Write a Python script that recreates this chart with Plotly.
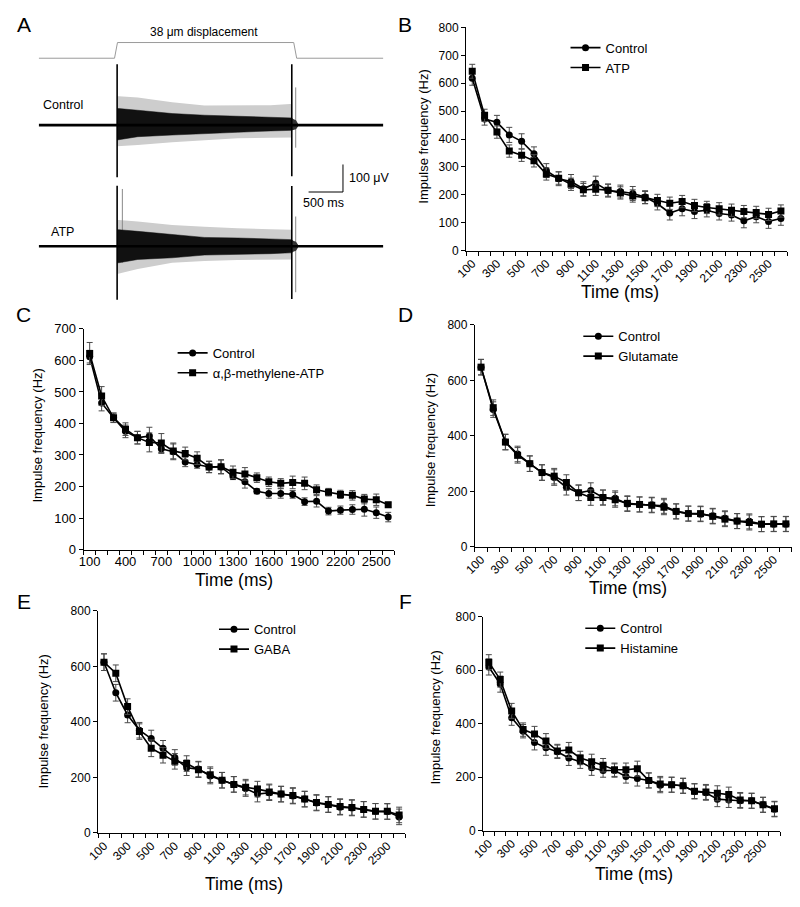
import plotly.graph_objects as go

# The page body keeps the browser's default 8px margin, so the figure is drawn
# 16px smaller than the 800x907 window and every position is given in window px.
WIN_W, WIN_H = 800, 907
OFF = 8
W, H = WIN_W - 2 * OFF, WIN_H - 2 * OFF
FONT = "Liberation Sans, Arial, sans-serif"

# ---------------- data ----------------
times = [100, 200, 300, 400, 500, 600, 700, 800, 900, 1000, 1100, 1200, 1300,
         1400, 1500, 1600, 1700, 1800, 1900, 2000, 2100, 2200, 2300, 2400, 2500, 2600]

# Panel B
b_control = [618, 472, 460, 415, 392, 347, 287, 258, 248, 222, 242, 215, 212, 205, 192, 168, 135, 150, 140, 145, 133, 128, 107, 122, 105, 115]
b_control_err = [25, 22, 25, 27, 27, 25, 25, 25, 25, 25, 25, 23, 23, 25, 23, 22, 25, 25, 25, 24, 23, 22, 25, 22, 25, 24]
b_atp = [643, 485, 425, 357, 342, 322, 275, 260, 238, 218, 220, 217, 207, 196, 190, 180, 170, 176, 162, 155, 150, 145, 140, 137, 130, 142]
b_atp_err = [25, 22, 22, 22, 22, 22, 22, 22, 22, 23, 22, 22, 22, 22, 22, 22, 22, 22, 22, 22, 22, 22, 22, 22, 22, 22]

# Panel C
c_control = [612, 465, 418, 375, 355, 360, 320, 310, 278, 270, 262, 262, 232, 215, 185, 178, 178, 175, 152, 153, 122, 125, 127, 128, 117, 103]
c_control_err = [20, 25, 15, 20, 20, 28, 15, 25, 15, 12, 18, 22, 10, 20, 8, 15, 15, 12, 12, 18, 12, 13, 15, 22, 18, 15]
c_abm = [622, 487, 418, 382, 355, 340, 338, 313, 305, 290, 262, 263, 245, 240, 228, 215, 210, 213, 210, 190, 182, 175, 172, 160, 158, 142]
c_abm_err = [35, 30, 15, 20, 20, 30, 30, 25, 20, 20, 18, 22, 20, 20, 15, 15, 15, 20, 20, 15, 12, 13, 15, 15, 18, 8]

# Panel D
d_control = [648, 495, 378, 335, 300, 268, 250, 215, 195, 203, 178, 175, 155, 153, 152, 148, 128, 120, 118, 112, 103, 93, 92, 82, 82, 82]
d_control_err = [28, 28, 28, 28, 28, 28, 28, 28, 28, 28, 27, 27, 27, 27, 27, 27, 27, 27, 27, 27, 27, 27, 27, 27, 27, 27]
d_glu = [648, 502, 378, 330, 300, 268, 255, 232, 195, 178, 178, 170, 157, 153, 150, 143, 128, 120, 120, 110, 100, 93, 88, 82, 83, 83]
d_glu_err = [28, 28, 28, 28, 28, 28, 28, 28, 28, 28, 27, 27, 27, 27, 27, 27, 27, 27, 27, 27, 27, 27, 27, 27, 27, 27]

# Panel E
e_control = [615, 505, 425, 370, 340, 305, 272, 235, 230, 205, 190, 175, 160, 140, 145, 140, 133, 122, 108, 102, 93, 90, 85, 78, 77, 58]
e_control_err = [30, 30, 28, 28, 30, 28, 28, 28, 28, 28, 28, 28, 28, 28, 28, 28, 28, 28, 28, 28, 28, 28, 28, 28, 28, 28]
e_gaba = [615, 575, 455, 365, 305, 280, 258, 250, 228, 210, 190, 175, 165, 158, 148, 140, 135, 122, 110, 103, 95, 92, 85, 78, 78, 65]
e_gaba_err = [30, 30, 28, 28, 30, 28, 28, 28, 28, 28, 28, 28, 28, 28, 28, 28, 28, 28, 28, 28, 28, 28, 28, 28, 28, 28]

# Panel F
f_control = [612, 548, 422, 372, 330, 310, 295, 272, 258, 235, 225, 225, 203, 195, 188, 170, 172, 168, 147, 142, 118, 115, 112, 112, 97, 80]
f_control_err = [30, 30, 28, 25, 28, 28, 25, 28, 25, 28, 25, 25, 25, 28, 28, 28, 28, 28, 28, 28, 28, 28, 28, 28, 28, 28]
f_hist = [630, 565, 448, 378, 362, 335, 298, 302, 272, 258, 245, 228, 228, 232, 188, 175, 172, 168, 148, 145, 140, 135, 115, 112, 97, 82]
f_hist_err = [28, 28, 28, 25, 28, 28, 25, 28, 25, 28, 25, 25, 25, 28, 28, 28, 28, 28, 28, 28, 28, 28, 28, 28, 28, 28]

# Panel A: recording envelopes (µV relative to baseline), time in ms from stimulus onset
env_t = [0, 25, 300, 800, 1270, 1750, 2230, 2510, 2540]
ctrl_core_up = [60, 60, 54, 42, 36, 32, 30, 26, 26]
ctrl_core_lo = [-54, -54, -42, -36, -30, -26, -21, -19, -19]
ctrl_out_up = [105, 105, 100, 83, 71, 71, 72, 77, 77]
ctrl_out_lo = [-77, -77, -72, -62, -54, -48, -46, -45, -45]
atp_core_up = [60, 60, 54, 42, 32, 30, 27, 24, 24]
atp_core_lo = [-60, -60, -48, -42, -32, -30, -27, -24, -24]
atp_out_up = [95, 95, 90, 77, 71, 65, 62, 60, 60]
atp_out_lo = [-101, -101, -83, -60, -54, -50, -48, -48, -48]
tail_t = [2540, 2560, 2600, 2630]
ctrl_tail_up = [26, 22, 18, 5]
ctrl_tail_lo = [-19, -18, -15, -5]
atp_tail_up = [24, 20, 16, 5]
atp_tail_lo = [-24, -20, -16, -5]
# spikes: time, top, bottom (µV)
ctrl_spike_t = [0, 2539]
ctrl_spike_top = [221, 221]
ctrl_spike_bot = [-189, -186]
ctrl_gray_spike_t = [2596]
ctrl_gray_spike_top = [137]
ctrl_gray_spike_bot = [-82]
atp_spike_t = [0, 2539]
atp_spike_top = [220, 219]
atp_spike_bot = [-194, -192]
atp_gray_spike_t = [76, 2596]
atp_gray_spike_top = [208, 108]
atp_gray_spike_bot = [-60, -167]
stim_t = [-1140, -38, 5, 2567, 2610, 3870]
stim_level = [243, 243, 300, 300, 243, 243]
rec_start, rec_end = -1140, 3870
atp_offset = -440
scale_t = [2783, 3283, 3283]
scale_v = [-243, -243, -143]

# ---------------- helpers ----------------
def px(x):
    return min(1.0, max(0.0, (x - OFF) / W))

def py(y):
    return min(1.0, max(0.0, 1 - (y - OFF) / H))

fig = go.Figure()

ticks_odd = [100, 300, 500, 700, 900, 1100, 1300, 1500, 1700, 1900, 2100, 2300, 2500]
panels = [
    dict(key="", xd=(461, 787), yd=(20.7, 247.7), ymax=800, dt=100, tv=ticks_odd, ang=-45, tf=12,
         c=b_control, ce=b_control_err, t=b_atp, te=b_atp_err, name="ATP", leg=(562, 26)),
    dict(key="2", xd=(72.7, 388), yd=(327.3, 551.7), ymax=700, dt=100,
         tv=[100, 400, 700, 1000, 1300, 1600, 1900, 2200, 2500], ang=0, tf=13,
         c=c_control, ce=c_control_err, t=c_abm, te=c_abm_err, name="α,β-methylene-ATP", leg=(163, 336.5)),
    dict(key="3", xd=(470, 792), yd=(323.3, 549), ymax=800, dt=200, tv=ticks_odd, ang=-45, tf=12,
         c=d_control, ce=d_control_err, t=d_glu, te=d_glu_err, name="Glutamate", leg=(575, 319.5)),
    dict(key="4", xd=(87.3, 399), yd=(614, 840), ymax=800, dt=200, tv=ticks_odd, ang=-45, tf=12,
         c=e_control, ce=e_control_err, t=e_gaba, te=e_gaba_err, name="GABA", leg=(205, 617.5)),
    dict(key="5", xd=(478.3, 780), yd=(620, 837.7), ymax=800, dt=200, tv=ticks_odd, ang=-45, tf=12,
         c=f_control, ce=f_control_err, t=f_hist, te=f_hist_err, name="Histamine", leg=(577, 616.5)),
]

layout_extra = {}
boundaries = [t - 50 for t in times] + [times[-1] + 50]

for p in panels:
    k = p["key"]
    xa, ya = "x" + k, "y" + k
    lg = "legend" + k
    for series, err, nm, sym in [(p["c"], p["ce"], "Control", "circle"), (p["t"], p["te"], p["name"], "square")]:
        fig.add_trace(go.Scatter(
            x=times, y=series, mode="lines+markers", name=nm,
            xaxis=xa, yaxis=ya, legend=lg,
            line=dict(color="black", width=1.6),
            marker=dict(symbol=sym, size=7, color="black"),
            error_y=dict(type="data", array=err, color="#4a4a4a", thickness=1, width=3),
        ))
    layout_extra["xaxis" + k] = dict(
        domain=[px(p["xd"][0]), px(p["xd"][1])], anchor=ya, range=[50, 2650],
        showline=True, linecolor="black", linewidth=1.2, showgrid=False, zeroline=False,
        tickmode="array", tickvals=p["tv"], ticktext=[str(v) for v in p["tv"]],
        ticks="", tickangle=p["ang"], tickfont=dict(size=p["tf"], color="black", family=FONT),
        minor=dict(tickmode="array", tickvals=boundaries, ticks="outside", ticklen=4,
                   tickwidth=1, tickcolor="black", showgrid=False),
    )
    layout_extra["yaxis" + k] = dict(
        domain=[py(p["yd"][1]), py(p["yd"][0])], anchor=xa, range=[0, p["ymax"]],
        dtick=p["dt"], tick0=0,
        showline=True, linecolor="black", linewidth=1.2, showgrid=False, zeroline=False,
        ticks="outside", ticklen=4, tickwidth=1, tickcolor="black",
        tickfont=dict(size=p["tf"], color="black", family=FONT),
    )
    layout_extra["legend" + k] = dict(
        x=px(p["leg"][0]), y=py(p["leg"][1]), xanchor="left", yanchor="top",
        bgcolor="rgba(0,0,0,0)", font=dict(size=13, color="black", family=FONT),
        tracegroupgap=0, itemwidth=30,
    )

# ---------------- panel A ----------------
def band(t, up, lo, off):
    return t + t[::-1], [v + off for v in up] + [v + off for v in lo[::-1]]

def spikes(ts, tops, bots, off):
    xs, ys = [], []
    for t, a, b in zip(ts, tops, bots):
        xs += [t, t, None]
        ys += [a + off, b + off, None]
    return xs, ys

for off, out_up, out_lo, core_up, core_lo, tail_up, tail_lo, st, stop, sbot, gt, gtop, gbot in [
    (0, ctrl_out_up, ctrl_out_lo, ctrl_core_up, ctrl_core_lo, ctrl_tail_up, ctrl_tail_lo,
     ctrl_spike_t, ctrl_spike_top, ctrl_spike_bot, ctrl_gray_spike_t, ctrl_gray_spike_top, ctrl_gray_spike_bot),
    (atp_offset, atp_out_up, atp_out_lo, atp_core_up, atp_core_lo, atp_tail_up, atp_tail_lo,
     atp_spike_t, atp_spike_top, atp_spike_bot, atp_gray_spike_t, atp_gray_spike_top, atp_gray_spike_bot),
]:
    bx, by = band(env_t, out_up, out_lo, off)
    fig.add_trace(go.Scatter(x=bx, y=by, mode="lines", fill="toself", fillcolor="#cdcdcd",
                             line=dict(width=0), xaxis="x6", yaxis="y6", showlegend=False, hoverinfo="skip"))
    gx, gy = spikes(gt, gtop, gbot, off)
    fig.add_trace(go.Scatter(x=gx, y=gy, mode="lines", line=dict(color="#888888", width=1),
                             xaxis="x6", yaxis="y6", showlegend=False, hoverinfo="skip"))
    cx, cy = band(env_t, core_up, core_lo, off)
    fig.add_trace(go.Scatter(x=cx, y=cy, mode="lines", fill="toself", fillcolor="#111111",
                             line=dict(width=0.5, color="#111111"), xaxis="x6", yaxis="y6",
                             showlegend=False, hoverinfo="skip"))
    tx, ty = band(tail_t, tail_up, tail_lo, off)
    fig.add_trace(go.Scatter(x=tx, y=ty, mode="lines", fill="toself", fillcolor="#333333",
                             line=dict(width=0), xaxis="x6", yaxis="y6",
                             showlegend=False, hoverinfo="skip"))
    fig.add_trace(go.Scatter(x=[rec_start, rec_end], y=[off, off], mode="lines",
                             line=dict(color="black", width=2.6), xaxis="x6", yaxis="y6",
                             showlegend=False, hoverinfo="skip"))
    sx, sy = spikes(st, stop, sbot, off)
    fig.add_trace(go.Scatter(x=sx, y=sy, mode="lines", line=dict(color="black", width=1.6),
                             xaxis="x6", yaxis="y6", showlegend=False, hoverinfo="skip"))

fig.add_trace(go.Scatter(x=stim_t, y=stim_level, mode="lines", line=dict(color="#9a9a9a", width=1),
                         xaxis="x6", yaxis="y6", showlegend=False, hoverinfo="skip"))
fig.add_trace(go.Scatter(x=scale_t, y=scale_v, mode="lines", line=dict(color="black", width=1),
                         xaxis="x6", yaxis="y6", showlegend=False, hoverinfo="skip"))

layout_extra["xaxis6"] = dict(domain=[px(27), px(377)], range=[rec_start, rec_end], visible=False, anchor="y6")
layout_extra["yaxis6"] = dict(domain=[py(300), py(10)], range=[-642.9, 392.9], visible=False, anchor="x6")

# ---------------- annotations ----------------
ann = []
def text(x, y, s, size=12, xanchor="center", angle=0):
    ann.append(dict(x=(x - OFF) / W, y=1 - (y - OFF) / H, xref="paper", yref="paper", text=s,
                    showarrow=False, xanchor=xanchor, yanchor="middle", textangle=angle,
                    font=dict(size=size, color="black", family=FONT)))

for letter, x, y in [("A", 12, 18), ("B", 399, 18), ("C", 12, 313), ("D", 399, 313), ("E", 12, 605), ("F", 399, 605)]:
    text(x, y, letter, size=21)

text(195, 25, "38 μm displacement", size=12)
text(29, 100, "Control", size=12.5, xanchor="left")
text(37, 229, "ATP", size=12.5, xanchor="left")
text(340, 174, "100 μV", size=12.5, xanchor="left")
text(316, 199, "500 ms", size=12.5)

for x, y in [(418, 132), (26, 436), (425, 441), (32, 727), (430, 723)]:
    text(x, y, "Impulse frequency (Hz)", size=13, angle=-90)
for x, y in [(617, 290), (225, 583), (625, 591), (235, 892), (632, 882)]:
    text(x, y, "Time (ms)", size=17.5)

fig.update_layout(
    width=W, height=H, margin=dict(l=0, r=0, t=0, b=0),
    paper_bgcolor="white", plot_bgcolor="white",
    font=dict(family=FONT, color="black"),
    annotations=ann, **layout_extra,
)

fig.write_html("out.html", config={"displayModeBar": False})
